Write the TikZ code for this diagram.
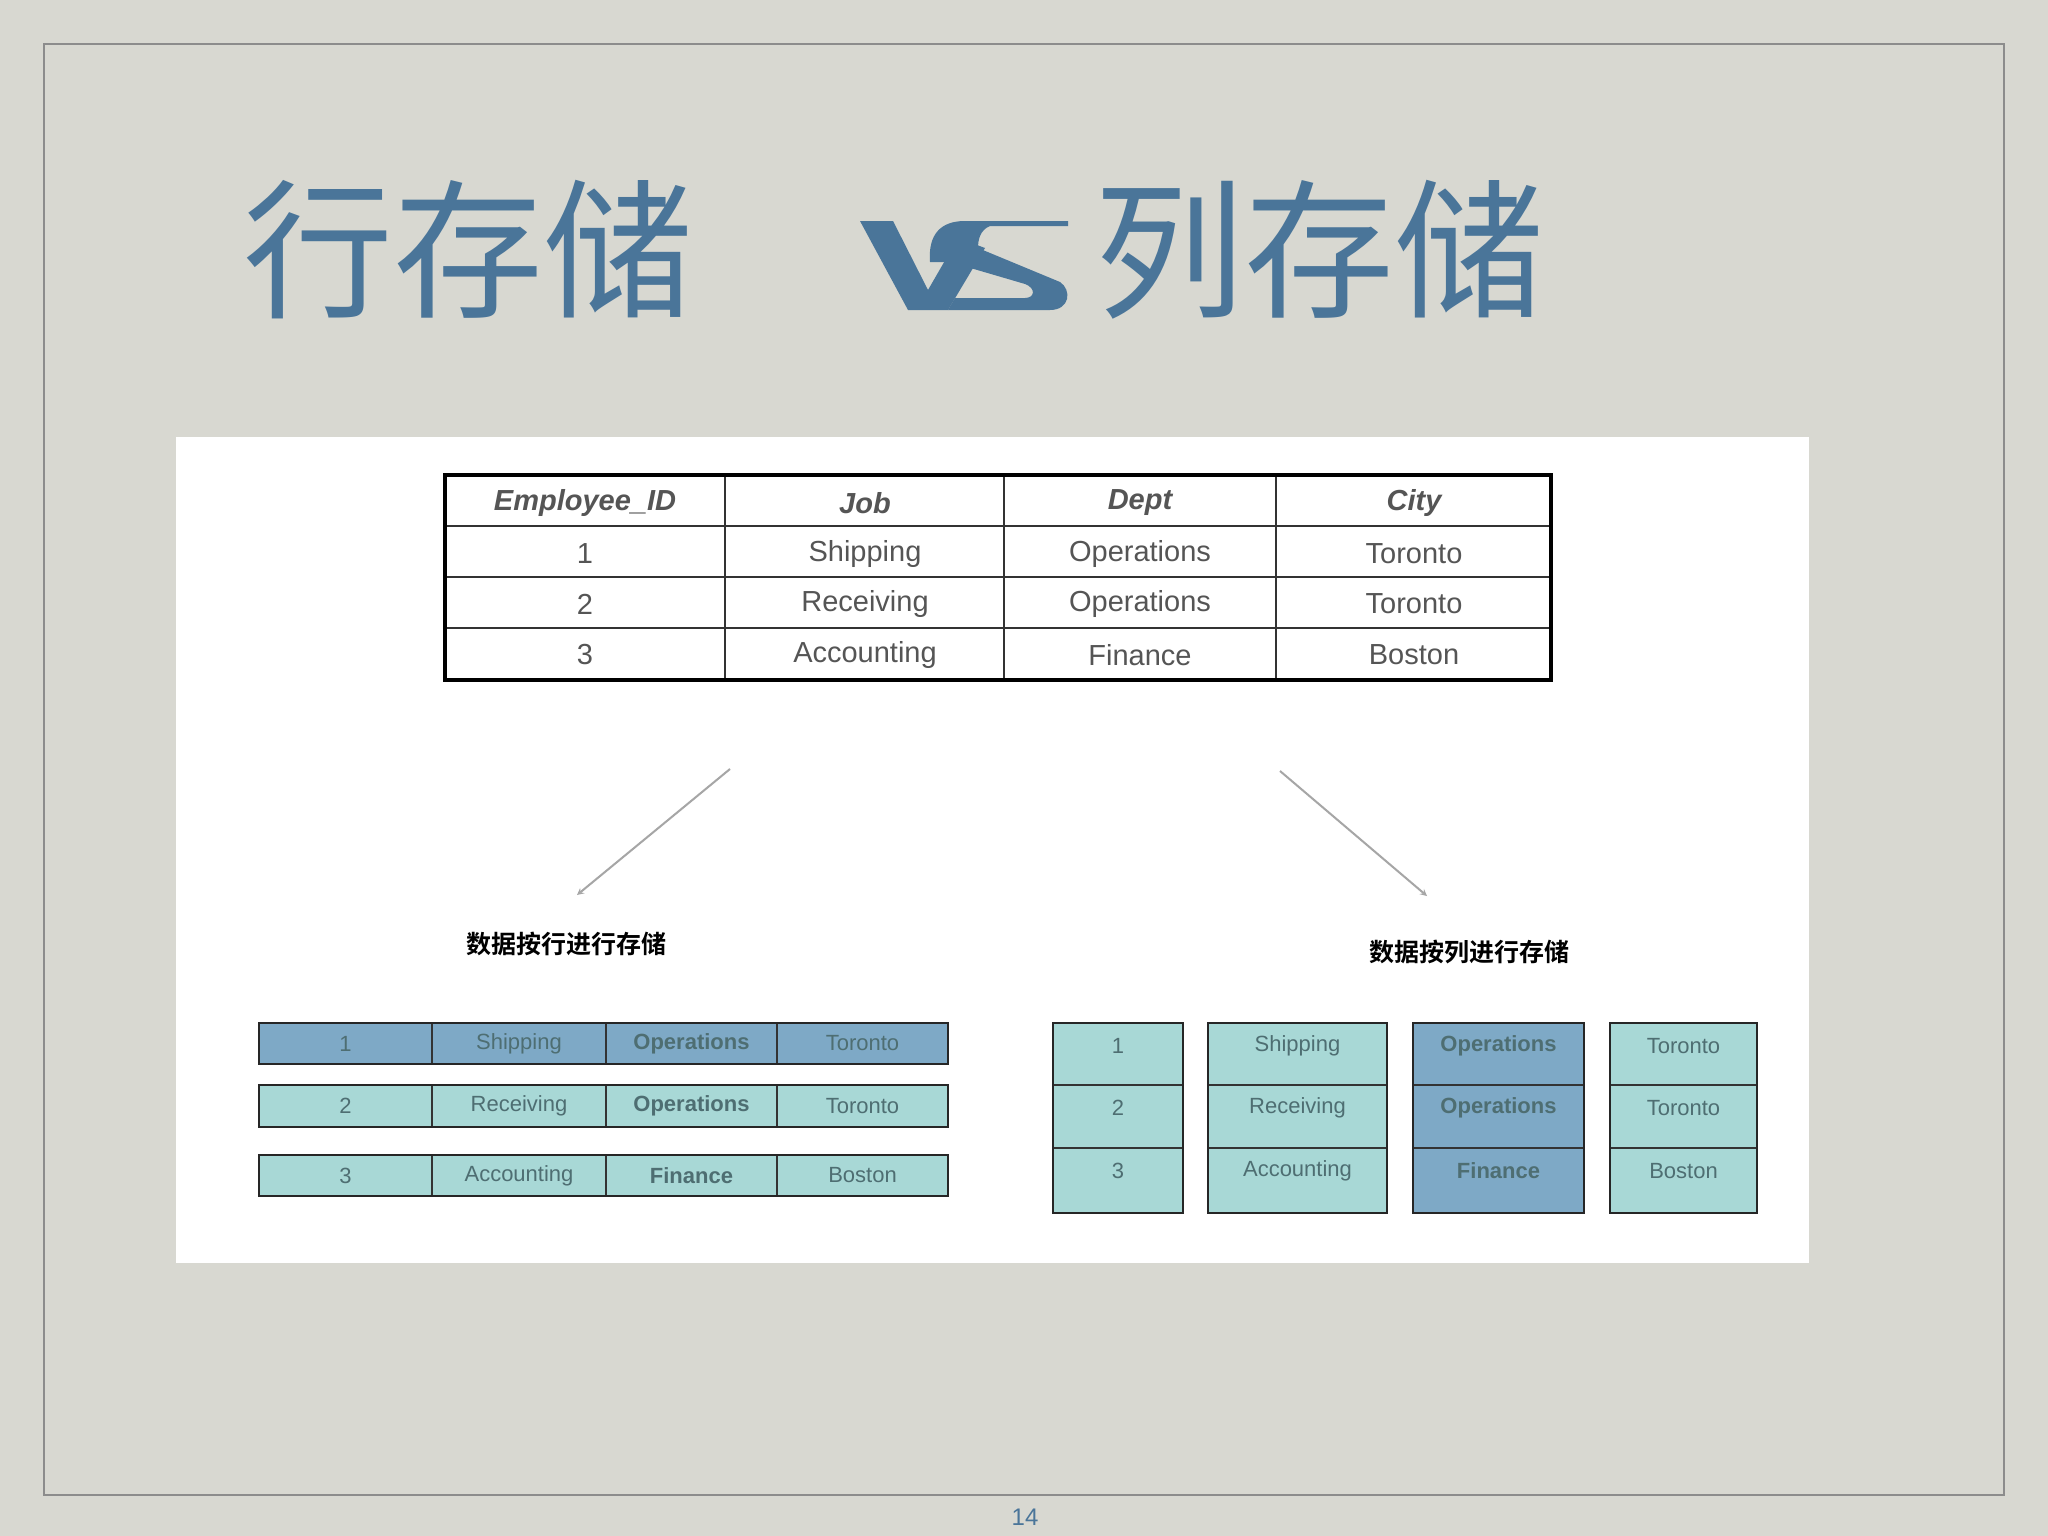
\documentclass[tikz,border=0pt]{standalone}
\usepackage{fontspec}
\setmainfont{Liberation Sans}
\newfontfamily\cjk{Noto Sans CJK SC}
\newfontfamily\cjkb{Noto Sans CJK SC Bold}
\definecolor{bgc}{HTML}{D8D8D1}
\definecolor{tblue}{HTML}{4A7599}
\definecolor{teal}{HTML}{A8D8D6}
\definecolor{dblue}{HTML}{7EA9C6}
\definecolor{txt}{HTML}{555555}
\definecolor{ctxt}{HTML}{4E6E72}
\begin{document}
\begin{tikzpicture}[x=1pt,y=-1pt,
  hdr/.style={font=\fontsize{29}{30}\selectfont\bfseries\itshape,text=txt},
  cel/.style={font=\fontsize{29}{30}\selectfont,text=txt},
  sml/.style={font=\fontsize{22}{24}\selectfont,text=ctxt},
  smlb/.style={font=\fontsize{22}{24}\selectfont\bfseries,text=ctxt},
  box/.style={draw=black!85,line width=2.5pt},
  arr/.style={draw=black!35,line width=2pt,-stealth}]
\fill[bgc] (0,0) rectangle (2048,1536);
\useasboundingbox (0,0) rectangle (2048,1536);
\draw[black!45,line width=2.5pt] (44,44) rectangle (2004,1495);
% title
\node[text=tblue,font=\cjk\fontsize{150}{150}\selectfont] (t1) at (468,250) {行存储};
\node[text=tblue,font=\cjk\fontsize{150}{150}\selectfont] (t2) at (1319,250) {列存储};
\fill[tblue] (860,221)--(893,221)--(928,290)--(958,238)--(985,248)--(948,310)--(908,310)--cycle;
\fill[tblue] (930,262) .. controls (928,235) and (940,221) .. (965,221) -- (1068,221) -- (1068,226) -- (990,226) .. controls (980,230) and (978,240) .. (978,248)
  -- (1060,282) .. controls (1072,290) and (1070,310) .. (1050,310) -- (948,310) -- (955,298) -- (1025,298) .. controls (1035,298) and (1036,288) .. (1025,284) -- (950,262) -- cycle;
% white panel
\fill[white] (176,437) rectangle (1809,1263);
% top table
\foreach \x in {725,1004,1276} \draw[black!80,line width=2pt] (\x,475) -- (\x,680);
\foreach \y in {526,577,628} \draw[black!80,line width=2pt] (445,\y) -- (1551,\y);
\draw[black,line width=3.5pt] (445,475) rectangle (1551,680);
\node[hdr] (h1) at (585,503) {Employee\_ID};
\node[hdr] (h2) at (865,503) {Job};
\node[hdr] (h3) at (1140,503) {Dept};
\node[hdr] (h4) at (1414,503) {City};
\foreach \r/\y/\a/\b/\c/\d in {1/554/1/Shipping/Operations/Toronto,2/604/2/Receiving/Operations/Toronto,3/655/3/Accounting/Finance/Boston}{
  \node[cel] (r\r a) at (585,\y) {\a};
  \node[cel] (r\r b) at (865,\y) {\b};
  \node[cel] (r\r c) at (1140,\y) {\c};
  \node[cel] (r\r d) at (1414,\y) {\d};
}
\coordinate (a1s) at (730,769); \coordinate (a1e) at (577,895);
\coordinate (a2s) at (1280,771); \coordinate (a2e) at (1427,896);
\draw[arr] (a1s) -- (a1e);
\draw[arr] (a2s) -- (a2e);
\node[font=\cjkb\fontsize{25}{26}\selectfont] (l1) at (566,944) {数据按行进行存储};
\node[font=\cjkb\fontsize{25}{26}\selectfont] (l2) at (1469,952) {数据按列进行存储};
% bottom left rows
\foreach \r/\ya/\yb/\fc/\a/\b/\c/\d/\cs in {1/1023/1064/dblue/1/Shipping/Operations/Toronto/smlb,2/1085/1127/teal/2/Receiving/Operations/Toronto/sml,3/1155/1196/teal/3/Accounting/Finance/Boston/sml}{
  \fill[\fc] (259,\ya) rectangle (948,\yb);
  \foreach \x in {432,606,777} \draw[black!80,line width=2pt] (\x,\ya) -- (\x,\yb);
  \draw[box] (259,\ya) rectangle (948,\yb);
  \node[sml] (L\r a) at (345.5,{(\ya+\yb)/2}) {\a};
  \node[sml] (L\r b) at (519,{(\ya+\yb)/2}) {\b};
  \node[smlb] (L\r c) at (691.5,{(\ya+\yb)/2}) {\c};
  \node[sml] (L\r d) at (862.5,{(\ya+\yb)/2}) {\d};
}
% fix: row2/3 middle column not bold -> overlay handled by redraw
% bottom right columns
\foreach \c/\xa/\xb/\fc/\a/\b/\cc/\st in {a/1053/1183/teal/1/2/3/sml,b/1208/1387/teal/Shipping/Receiving/Accounting/sml,c/1413/1584/dblue/Operations/Operations/Finance/smlb,d/1610/1757/teal/Toronto/Toronto/Boston/sml}{
  \fill[\fc] (\xa,1023) rectangle (\xb,1213);
  \draw[black!80,line width=2.5pt] (\xa,1085) -- (\xb,1085) (\xa,1148) -- (\xb,1148);
  \draw[box] (\xa,1023) rectangle (\xb,1213);
  \node[\st] (R\c1) at ({(\xa+\xb)/2},1046) {\a};
  \node[\st] (R\c2) at ({(\xa+\xb)/2},1108) {\b};
  \node[\st] (R\c3) at ({(\xa+\xb)/2},1171) {\cc};
}
\node[text=tblue,font=\fontsize{24}{26}\selectfont] (pg) at (1025,1517) {14};
\end{tikzpicture}
\end{document}
